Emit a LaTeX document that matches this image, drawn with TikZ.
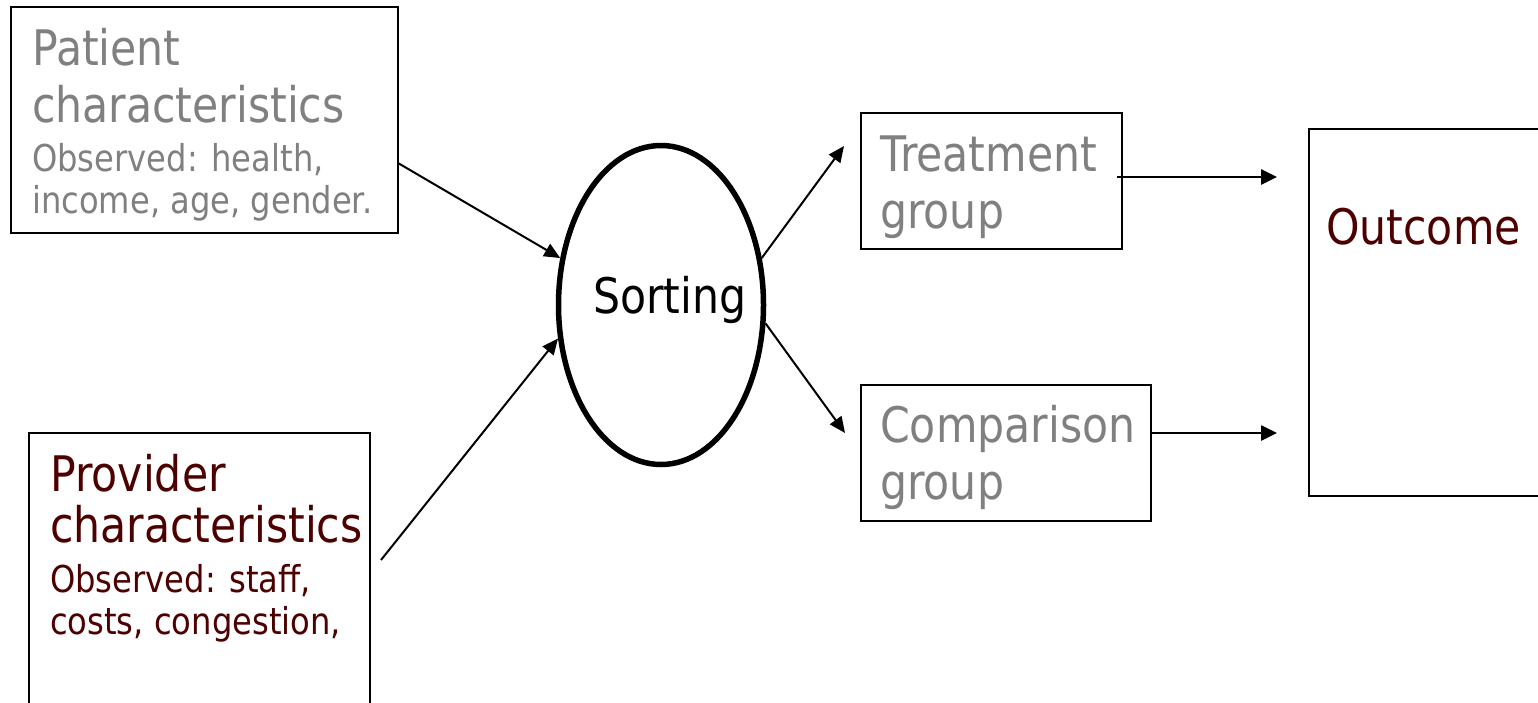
\documentclass[tikz,border=0pt]{standalone}
\usepackage{fontspec}
\setmainfont{DejaVu Sans}[FakeStretch=0.87]
\usetikzlibrary{arrows.meta,shapes.geometric}
\definecolor{txtgray}{RGB}{128,128,128}
\definecolor{txtred}{RGB}{77,0,0}
\begin{document}
\begin{tikzpicture}[x=1pt,y=-1pt,
  box/.style={draw=black,line width=2pt,rectangle,anchor=north west,inner sep=0pt,outer sep=0pt},
  big/.style={inner sep=0pt,anchor=base west,font=\fontsize{49}{58}\selectfont},
  small/.style={inner sep=0pt,anchor=base west,font=\fontsize{37}{43}\selectfont},
  conn/.style={line width=2pt,-{Triangle[length=16pt,width=14pt]}},
  hconn/.style={line width=2.6pt,-{Triangle[length=16pt,width=15pt]}}]
\useasboundingbox (0,0) rectangle (1538,702);
\clip (0,0) rectangle (1538,702);
% boxes
\node[box,minimum width=387pt,minimum height=226pt] (pat) at (11,7) {};
\node[box,minimum width=341pt,minimum height=300pt] (prov) at (29,433) {};
\node[box,minimum width=261pt,minimum height=136pt] (treat) at (861,113) {};
\node[box,minimum width=290pt,minimum height=136pt] (comp) at (861,385) {};
\node[box,minimum width=260pt,minimum height=367pt] (out) at (1309,129) {};
\node[draw=black,line width=5.5pt,ellipse,minimum width=205pt,minimum height=319pt,inner sep=0pt] (sort) at (661,305) {};
\node[big,text=black] (sortt) at (593,313) {Sorting};
% texts
\node[big,text=txtgray] (pat1) at (32,65) {Patient};
\node[big,text=txtgray] (pat2) at (32,122) {characteristics};
\node[small,text=txtgray] (pat3) at (32,171) {Observed: health,};
\node[small,text=txtgray] (pat4) at (32,213) {income, age, gender.};
\node[big,text=txtred] (prov1) at (50,491) {Provider};
\node[big,text=txtred] (prov2) at (50,542) {characteristics};
\node[small,text=txtred] (prov3) at (50,592) {Observed: staff,};
\node[small,text=txtred] (prov4) at (50,634) {costs, congestion,};
\node[big,text=txtgray] (treat1) at (880,171) {Treatment};
\node[big,text=txtgray] (treat2) at (880,228) {group};
\node[big,text=txtgray] (comp1) at (880,442) {Comparison};
\node[big,text=txtgray] (comp2) at (880,499) {group};
\node[big,text=txtred] (out1) at (1326,244) {Outcome};
% connectors
\draw[conn] ([shift={(0,156)}]pat.north east) -- (sort.155);
\draw[conn] ([shift={(11,127)}]prov.north east) -- (sort.198);
\draw[conn] (sort.25) -- ([shift={(-17,33)}]treat.north west);
\draw[conn] (sort.-10) -- ([shift={(-16,48)}]comp.north west);
\draw[hconn] ([shift={(-5,64)}]treat.north east) -- ([shift={(-32,48)}]out.north west);
\draw[hconn] ([shift={(0,48)}]comp.north east) -- ([shift={(-32,304)}]out.north west);
\end{tikzpicture}
\end{document}
